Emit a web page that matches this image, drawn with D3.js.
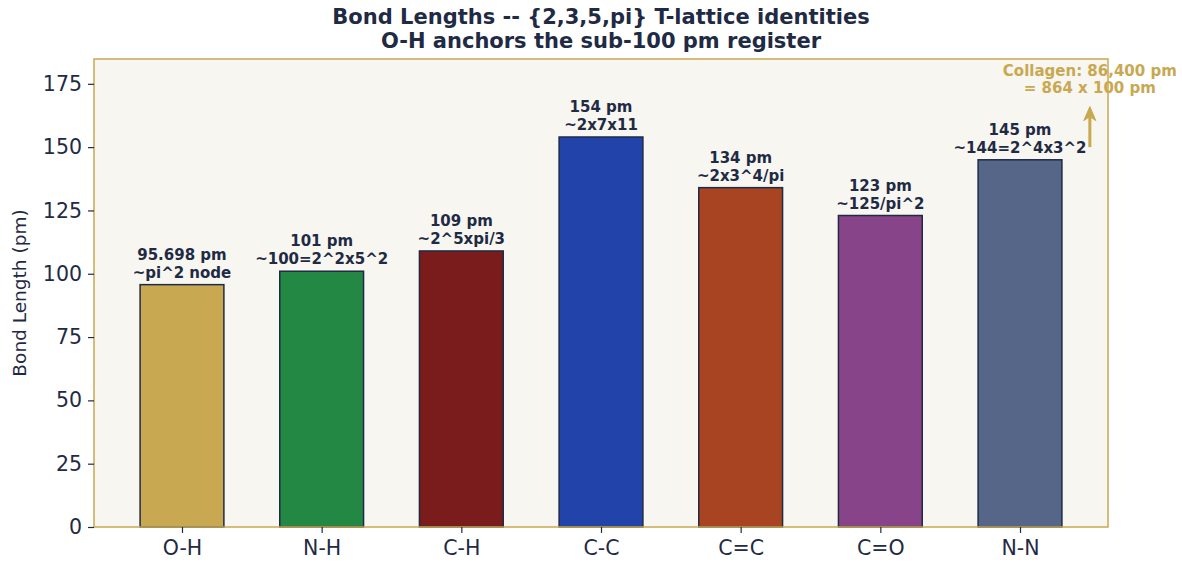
<!doctype html>
<html lang="en">
<head>
  <meta charset="utf-8">
  <title>Bond Lengths</title>
  <style>
    body { margin: 0; background: #fff; }
    svg { font-family: "DejaVu Sans", sans-serif; }
    .tick text { fill: #1f2a44; font-size: 20.5px; font-family: "DejaVu Sans", sans-serif; }
    .tick line { stroke: #1f2a44; stroke-width: 1.2; }
  </style>
</head>
<body>
  <div id="chart"></div>
  <script src="https://cdn.jsdelivr.net/npm/d3@7"></script>
  <script>
(function() {

  var bonds = ['O-H', 'N-H', 'C-H', 'C-C', 'C=C', 'C=O', 'N-N'];
  var lengths = [95.698, 101, 109, 154, 134, 123, 145];
  var notes = ['~pi^2 node', '~100=2^2x5^2', '~2^5xpi/3', '~2x7x11', '~2x3^4/pi', '~125/pi^2', '~144=2^4x3^2'];
  var valueText = ['95.698 pm', '101 pm', '109 pm', '154 pm', '134 pm', '123 pm', '145 pm'];
  var colors = ['#c8a850', '#228844', '#7a1c1c', '#2244aa', '#a84422', '#884488', '#556688'];
  var yTicks = [0, 25, 50, 75, 100, 125, 150, 175];

  var width = 1182, height = 563;
  var m = {left: 94, right: 1108, top: 59, bottom: 527};
  var ink = '#1f2a44', gold = '#c8a850';

  var svg = d3.select('#chart').append('svg')
      .attr('width', width).attr('height', height);

  // numeric x like matplotlib: bars at 0..6, width 0.6, 5% margins
  var x = d3.scaleLinear().domain([-0.63, 6.63]).range([m.left, m.right]);
  var y = d3.scaleLinear().domain([0, d3.max(lengths) * 1.2]).range([m.bottom, m.top]);
  var bw = x(0.6) - x(0);

  svg.append('rect')
    .attr('x', m.left).attr('y', m.top)
    .attr('width', m.right - m.left).attr('height', m.bottom - m.top)
    .attr('fill', '#f8f6f1');

  svg.selectAll('rect.bar').data(lengths).enter()
    .append('rect').attr('class', 'bar')
    .attr('x', function(d, i) { return x(i) - bw / 2; })
    .attr('y', function(d) { return y(d); })
    .attr('width', bw)
    .attr('height', function(d) { return y(0) - y(d); })
    .attr('fill', function(d, i) { return colors[i]; })
    .attr('stroke', ink).attr('stroke-width', 1.5);

  var lab = svg.selectAll('text.lab').data(lengths).enter()
    .append('text').attr('class', 'lab')
    .attr('text-anchor', 'middle')
    .attr('font-size', 15).attr('font-weight', 'bold').attr('fill', ink);
  lab.append('tspan')
    .attr('x', function(d, i) { return x(i); })
    .attr('y', function(d) { return y(d) - 25; })
    .text(function(d, i) { return valueText[i]; });
  lab.append('tspan')
    .attr('x', function(d, i) { return x(i); })
    .attr('y', function(d) { return y(d) - 7; })
    .text(function(d, i) { return notes[i]; });

  // collagen annotation: arrow from 150 up to ~166
  var ax = x(6.5), ay0 = y(150), ay1 = y(166);
  svg.append('line')
    .attr('x1', ax).attr('x2', ax)
    .attr('y1', ay0).attr('y2', ay1 + 10)
    .attr('stroke', gold).attr('stroke-width', 3);
  svg.append('path')
    .attr('d', 'M' + ax + ',' + ay1 + ' L' + (ax - 6) + ',' + (ay1 + 14) +
      ' L' + ax + ',' + (ay1 + 10) + ' L' + (ax + 6) + ',' + (ay1 + 14) + ' Z')
    .attr('fill', gold).attr('stroke', gold).attr('stroke-width', 1);
  var col = svg.append('text').attr('text-anchor', 'middle')
    .attr('font-size', 15).attr('font-weight', 'bold').attr('fill', gold);
  col.append('tspan').attr('x', ax).attr('y', 76).text('Collagen: 86,400 pm');
  col.append('tspan').attr('x', ax).attr('y', 93).text('= 864 x 100 pm');

  // spines
  svg.append('rect')
    .attr('x', m.left).attr('y', m.top)
    .attr('width', m.right - m.left).attr('height', m.bottom - m.top)
    .attr('fill', 'none').attr('stroke', gold).attr('stroke-width', 1.5);

  var yAxis = svg.append('g').attr('transform', 'translate(' + m.left + ',0)')
    .call(d3.axisLeft(y).tickValues(yTicks).tickSize(6).tickPadding(6));
  yAxis.select('.domain').remove();
  yAxis.attr('font-family', null);

  var xAxis = svg.append('g').attr('transform', 'translate(0,' + m.bottom + ')')
    .call(d3.axisBottom(x).tickValues(d3.range(bonds.length))
      .tickFormat(function(i) { return bonds[i]; }).tickSize(6).tickPadding(7));
  xAxis.select('.domain').remove();
  xAxis.attr('font-family', null);

  svg.append('text')
    .attr('transform', 'translate(26,' + ((m.top + m.bottom) / 2) + ') rotate(-90)')
    .attr('text-anchor', 'middle').attr('font-size', 18.5).attr('fill', ink)
    .text('Bond Length (pm)');

  var title = svg.append('text').attr('text-anchor', 'middle')
    .attr('font-size', 21).attr('font-weight', 'bold').attr('fill', ink);
  title.append('tspan').attr('x', (m.left + m.right) / 2).attr('y', 24)
    .text('Bond Lengths -- {2,3,5,pi} T-lattice identities');
  title.append('tspan').attr('x', (m.left + m.right) / 2).attr('y', 48)
    .text('O-H anchors the sub-100 pm register');

})();
  </script>
</body>
</html>
